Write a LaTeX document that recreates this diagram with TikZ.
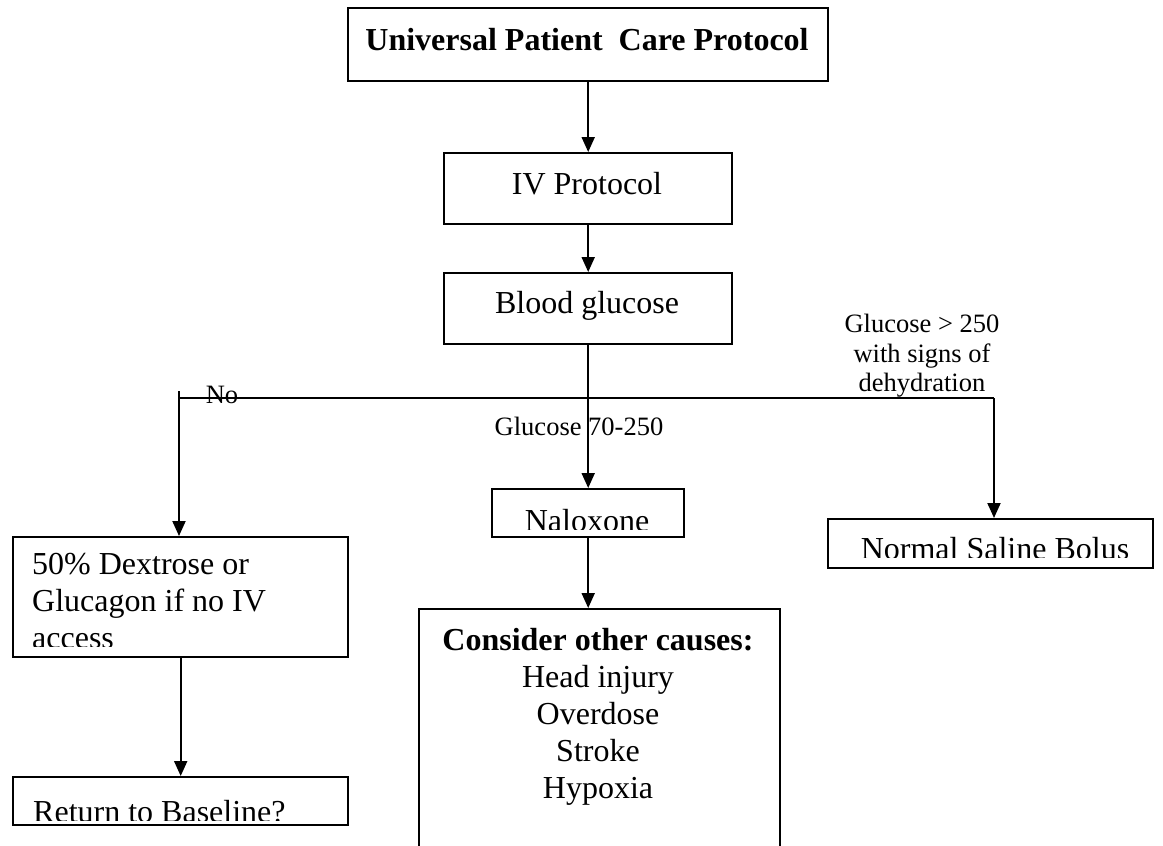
\documentclass[tikz,border=0pt]{standalone}
\usepackage{fontspec}
\setmainfont{Liberation Serif}
\usetikzlibrary{arrows.meta}
\begin{document}
\begin{tikzpicture}[x=1pt,y=-1pt,
  box/.style={draw, line width=2.4pt, inner sep=0pt, anchor=north west},
  link/.style={line width=2pt},
  arr/.style={link, -{Triangle[width=13pt,length=15pt]}},
  boxtext/.style={inner sep=0pt, font=\fontsize{32}{37}\selectfont},
  lbl/.style={inner sep=0pt, font=\fontsize{26.5}{29.5}\selectfont}]
\useasboundingbox (0,0) rectangle (1163,846);

% frames
\node[box, minimum width=480pt, minimum height=73pt] (top) at (347,7) {};
\node[box, minimum width=288pt, minimum height=71pt] (iv)  at (443,152) {};
\node[box, minimum width=288pt, minimum height=71pt] (bg)  at (443,272) {};
\node[box, minimum width=192pt, minimum height=48pt] (nal) at (491,488) {};
\node[box, minimum width=325pt, minimum height=49pt] (sal) at (827,518) {};
\node[box, minimum width=335pt, minimum height=120pt] (dex) at (12,536) {};
\node[box, minimum width=361pt, minimum height=252pt] (con) at (418,608) {};
\node[box, minimum width=335pt, minimum height=48pt] (ret) at (12,776) {};

% box texts
\node[boxtext, anchor=base, font=\fontsize{32}{37}\selectfont\bfseries] (ttop) at (587,50) {Universal Patient\ \ Care Protocol};
\node[boxtext, anchor=base] (tiv) at (587,194) {IV Protocol};
\node[boxtext, anchor=base] (tbg) at (587,313) {Blood glucose};
\begin{scope}
  \clip (nal.north west) rectangle ([yshift=9pt]nal.south east);
  \node[boxtext, anchor=base] (tnal) at (587,531) {Naloxone};
\end{scope}
\begin{scope}
  \clip (sal.north west) rectangle ([yshift=12pt]sal.south east);
  \node[boxtext, anchor=base] (tsal) at (995,559) {Normal Saline Bolus};
\end{scope}
\begin{scope}
  \clip (dex.north west) rectangle ([yshift=12pt]dex.south east);
  \node[boxtext, anchor=north west, align=left] (tdex) at (32,553) {50\% Dextrose or\\Glucagon if no IV\\access};
\end{scope}
\begin{scope}
  \clip (ret.north west) rectangle ([yshift=6pt]ret.south east);
  \node[boxtext, anchor=base west] (tret) at (33,822) {Return to Baseline?};
\end{scope}
\node[boxtext, anchor=north, align=center] (tcon) at (598,628)
  {\textbf{Consider other causes:}\\Head injury\\Overdose\\Stroke\\Hypoxia};

% branch labels
\node[lbl, anchor=base] (lno) at (222,403) {No};
\node[lbl, anchor=base] (lmid) at (579,435) {Glucose 70-250};
\node[lbl, anchor=north, align=center] (lhigh) at (922,314) {Glucose > 250\\with signs of\\dehydration};

% connectors
\coordinate (hl) at (179,398);
\coordinate (hr) at (994,398);
\coordinate (tick) at (179,391);
\draw[arr] (top.south) -- (iv.north);
\draw[arr] (iv.south) -- (bg.north);
\draw[arr] (bg.south) -- (nal.north);
\draw[link] (hl) -- (hr);
\draw[arr] (tick) -- (tick |- dex.north);
\draw[arr] (hr) -- (hr |- sal.north);
\draw[arr] (nal.south) -- (nal.south |- con.north);
\draw[arr] (dex.south) -- (ret.north);
\end{tikzpicture}
\end{document}
